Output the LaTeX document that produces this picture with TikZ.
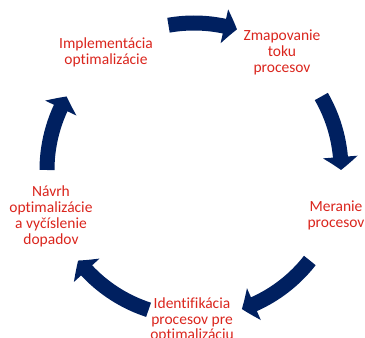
\documentclass[tikz,border=0pt]{standalone}
\usepackage{fontspec}
\setmainfont[Ligatures=CommonOff]{Carlito}
\usetikzlibrary{arrows.meta,bending}

\definecolor{tmavomodra}{RGB}{0,32,96}
\definecolor{cervena}{RGB}{218,37,29}

\tikzset{
  krok/.style={text=cervena, align=center, inner sep=1pt,
    font=\fontsize{15.5}{15.8}\selectfont},
  sipka/.style={draw=tmavomodra, line width=15pt,
    -{Triangle[length=13pt,width=34pt,bend]}}
}

\begin{document}
\begin{tikzpicture}[x=1pt,y=1pt]
\useasboundingbox (0,0) rectangle (365,338);

\node[krok] (impl) at (106,285.5) {Implementácia\\optimalizácie};
\node[krok] (zmap) at (282,285.5) {Zmapovanie\\toku\\procesov};
\node[krok] (meranie) at (336,122.5) {Meranie\\procesov};
\node[krok] (identif) at (192,18) {Identifikácia\\procesov pre\\optimalizáciu};
\node[krok] (navrh) at (51,121.5) {Návrh\\optimalizácie\\a vyčíslenie\\dopadov};

% stred kruhu a zaciatky sipok
\coordinate (C) at (194,168);
\coordinate (s1) at ([shift={(100:147)}]C);
\coordinate (s2) at ([shift={(30:147)}]C);
\coordinate (s3) at ([shift={(-38:147)}]C);
\coordinate (s4) at ([shift={(-108:147)}]C);
\coordinate (s5) at ([shift={(180:147)}]C);

\draw[sipka] (s1) arc[start angle=100, end angle=73, radius=147pt];
\draw[sipka] (s2) arc[start angle=30, end angle=0, radius=147pt];
\draw[sipka] (s3) arc[start angle=-38, end angle=-71, radius=147pt];
\draw[sipka] (s4) arc[start angle=-108, end angle=-142, radius=147pt];
\draw[sipka] (s5) arc[start angle=180, end angle=150, radius=147pt];
\end{tikzpicture}
\end{document}
